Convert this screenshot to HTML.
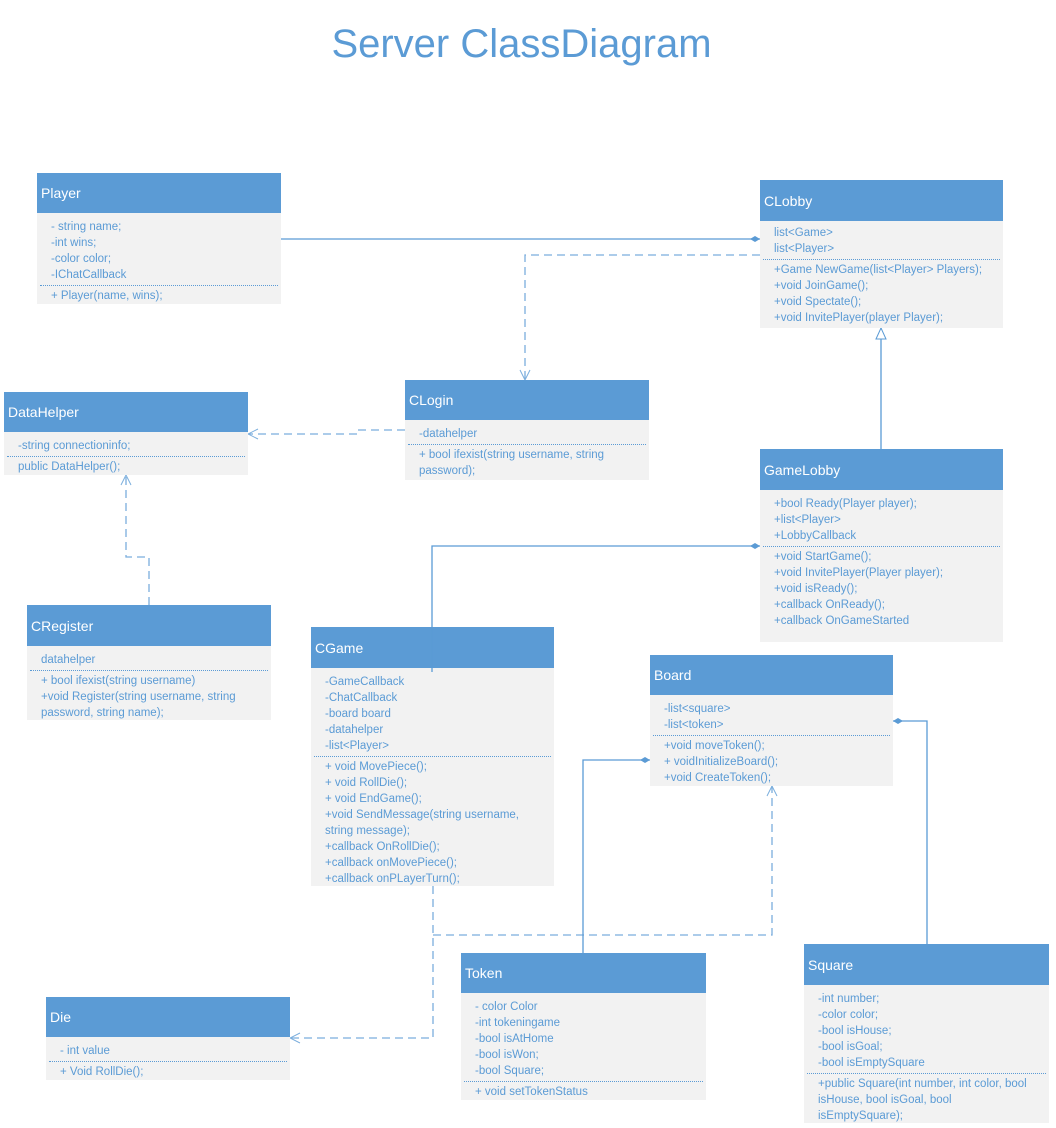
<!DOCTYPE html>
<html><head><meta charset="utf-8"><style>
body{margin:0;width:1056px;height:1128px;background:#fff;position:relative;overflow:hidden;font-family:"Liberation Sans",sans-serif;}
.t{position:absolute;left:0;width:1043px;top:22px;text-align:center;font-size:40px;color:#5b9bd5;}
.b{position:absolute;background:#f2f2f2;color:#5b9bd5;font-size:11.5px;}
.h{background:#5b9bd5;color:#fff;font-size:14px;padding-left:4px;box-sizing:border-box;display:flex;align-items:center;}
.bd{padding:6px 4px 0 14px;line-height:16px;white-space:pre;}
.s{border-top:1px dotted #5b9bd5;margin:2px -1px 2px -11px;}
svg{position:absolute;left:0;top:0;}
</style></head><body>
<div class="t">Server ClassDiagram</div>
<svg width="1056" height="1128">
<defs>
<marker id="dm" markerWidth="12" markerHeight="8" refX="11" refY="4" orient="auto" markerUnits="userSpaceOnUse"><path d="M1,4 L6,1 L11,4 L6,7z" fill="#5b9bd5"/></marker>
<marker id="oa" markerWidth="12" markerHeight="12" refX="11" refY="6" orient="auto" markerUnits="userSpaceOnUse"><path d="M1,1 L11,6 L1,11" fill="none" stroke="#5b9bd5"/></marker>
<marker id="tr" markerWidth="14" markerHeight="14" refX="12" refY="7" orient="auto" markerUnits="userSpaceOnUse"><path d="M1,2 L12,7 L1,12z" fill="#fff" stroke="#5b9bd5"/></marker>
</defs>
<g stroke="#5b9bd5" stroke-width="1.3" fill="none">
<path d="M281,239 H760" marker-end="url(#dm)"/>
<path d="M881,449 V328" marker-end="url(#tr)"/>
<path d="M583,953 V760 H650" marker-end="url(#dm)"/>
<path d="M927,944 V721 H893" marker-end="url(#dm)"/>
</g>
<g stroke="#5b9bd5" stroke-width="1.3" fill="none" stroke-dasharray="8,5" opacity="0.8">
<path d="M760,255 H525 V380" marker-end="url(#oa)"/>
<path d="M405,430 H357 V434 H248" marker-end="url(#oa)"/>
<path d="M149,605 V557 H126 V475" marker-end="url(#oa)"/>
<path d="M433,886 V1038 H290" marker-end="url(#oa)"/>
<path d="M433,935 H772 V786" marker-end="url(#oa)"/>
</g>
</svg>

<div class="b" style="left:37px;top:173px;width:244px;height:131px"><div class="h" style="height:40px">Player</div><div class="bd">- string name;
-int wins;
-color color;
-IChatCallback<div class="s"></div>+ Player(name, wins);</div></div>

<div class="b" style="left:760px;top:180px;width:243px;height:148px"><div class="h" style="height:41px">CLobby</div><div class="bd" style="padding-top:4px">list&lt;Game&gt;
list&lt;Player&gt;<div class="s"></div>+Game NewGame(list&lt;Player&gt; Players);
+void JoinGame();
+void Spectate();
+void InvitePlayer(player Player);</div></div>

<div class="b" style="left:405px;top:380px;width:244px;height:100px"><div class="h" style="height:40px">CLogin</div><div class="bd">-datahelper<div class="s"></div>+ bool ifexist(string username, string
password);</div></div>

<div class="b" style="left:4px;top:392px;width:244px;height:83px"><div class="h" style="height:40px">DataHelper</div><div class="bd">-string connectioninfo;<div class="s"></div>public DataHelper();</div></div>

<div class="b" style="left:760px;top:449px;width:243px;height:193px"><div class="h" style="height:41px">GameLobby</div><div class="bd">+bool Ready(Player player);
+list&lt;Player&gt;
+LobbyCallback<div class="s"></div>+void StartGame();
+void InvitePlayer(Player player);
+void isReady();
+callback OnReady();
+callback OnGameStarted</div></div>

<div class="b" style="left:27px;top:605px;width:244px;height:115px"><div class="h" style="height:41px">CRegister</div><div class="bd">datahelper<div class="s"></div>+ bool ifexist(string username)
+void Register(string username, string
password, string name);</div></div>

<div class="b" style="left:311px;top:627px;width:243px;height:259px"><div class="h" style="height:41px">CGame</div><div class="bd">-GameCallback
-ChatCallback
-board board
-datahelper
-list&lt;Player&gt;<div class="s"></div>+ void MovePiece();
+ void RollDie();
+ void EndGame();
+void SendMessage(string username,
string message);
+callback OnRollDie();
+callback onMovePiece();
+callback onPLayerTurn();</div></div>

<div class="b" style="left:650px;top:655px;width:243px;height:131px"><div class="h" style="height:40px">Board</div><div class="bd">-list&lt;square&gt;
-list&lt;token&gt;<div class="s"></div>+void moveToken();
+ voidInitializeBoard();
+void CreateToken();</div></div>

<div class="b" style="left:461px;top:953px;width:245px;height:147px"><div class="h" style="height:40px">Token</div><div class="bd">- color Color
-int tokeningame
-bool isAtHome
-bool isWon;
-bool Square;<div class="s"></div>+ void setTokenStatus</div></div>

<div class="b" style="left:804px;top:944px;width:245px;height:179px"><div class="h" style="height:41px">Square</div><div class="bd">-int number;
-color color;
-bool isHouse;
-bool isGoal;
-bool isEmptySquare<div class="s"></div>+public Square(int number, int color, bool
isHouse, bool isGoal, bool
isEmptySquare);</div></div>

<div class="b" style="left:46px;top:997px;width:244px;height:83px"><div class="h" style="height:40px">Die</div><div class="bd">- int value<div class="s"></div>+ Void RollDie();</div></div>

<svg width="1056" height="1128" style="pointer-events:none">
<defs><marker id="dm2" markerWidth="12" markerHeight="8" refX="11" refY="4" orient="auto" markerUnits="userSpaceOnUse"><path d="M1,4 L6,1 L11,4 L6,7z" fill="#5b9bd5"/></marker></defs>
<path d="M432,672 V546 H760" stroke="#5b9bd5" stroke-width="1.3" fill="none" marker-end="url(#dm2)"/>
</svg>
</body></html>
